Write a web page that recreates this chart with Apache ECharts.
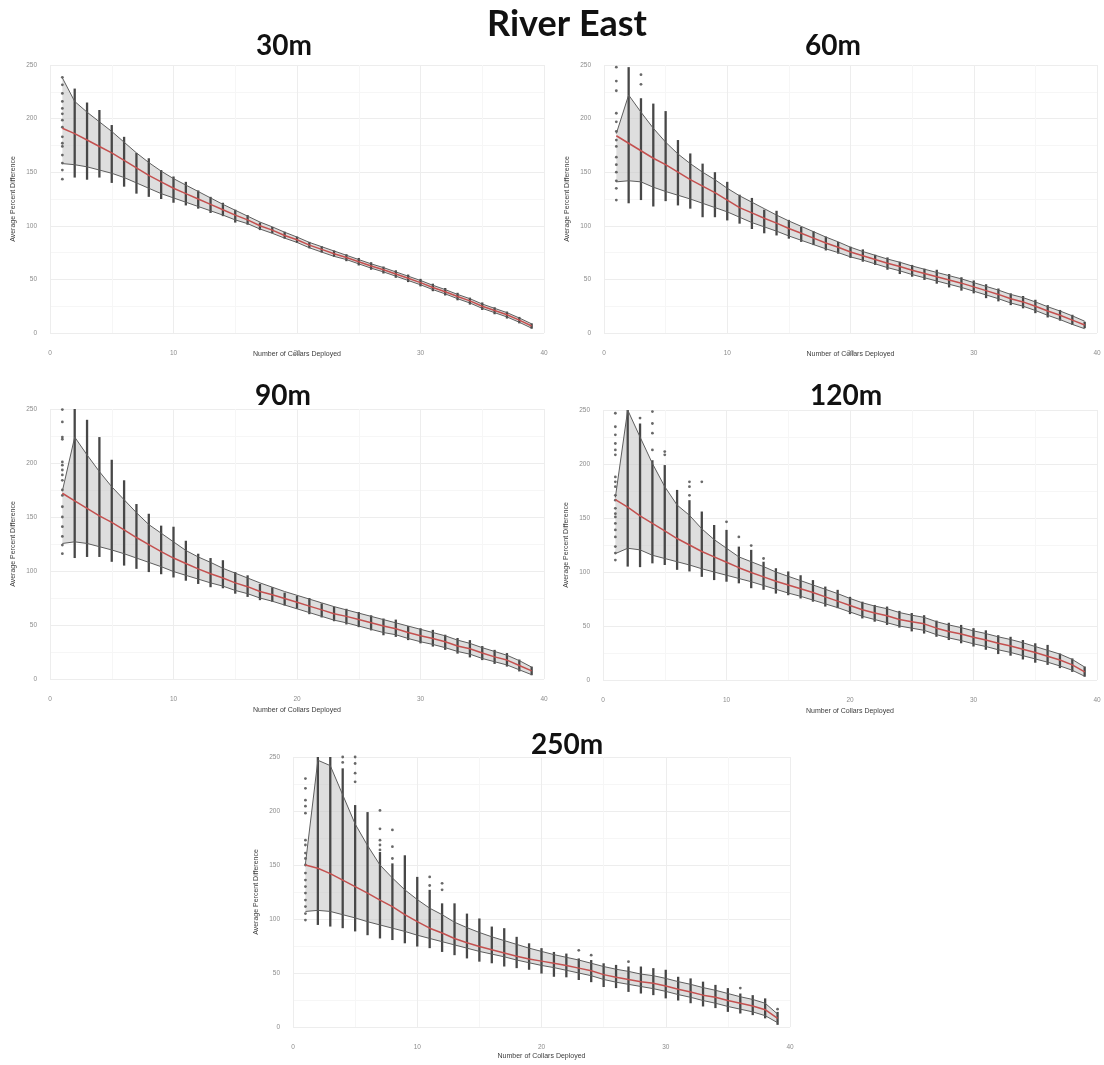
<!DOCTYPE html>
<html><head><meta charset="utf-8">
<script src="https://cdn.jsdelivr.net/npm/echarts@6/dist/echarts.min.js"></script>
<style>html,body{margin:0;padding:0;background:#fff}#c{width:1104px;height:1065px}</style>
</head><body><div id="c"></div><script>
// x categories: number of collars deployed
const collars = [1,2,3,4,5,6,7,8,9,10,11,12,13,14,15,16,17,18,19,20,21,22,23,24,25,26,27,28,29,30,31,32,33,34,35,36,37,38,39];
const xTicks = [0,10,20,30,40];
const yTicks = [0,50,100,150,200,250];
const panelNames = ['30m','60m','90m','120m','250m'];

// ---- 30m ----
const mean30 = [191,186,180,174,168,161,154,147,141,135,130,125,120,115,110,105.5,100,96,91,87,82,78,74,70.5,66.5,62.5,59,55,51,47,42.5,38.5,34,30,25,21,17,12,6.5];
const hi30 = [null,228,215,208,194,183,168,163,152,146,141,133,127,121.5,115,110,103,99,94.5,90,85,81,77,73.5,70,66,62,58.5,54.5,50.5,46,42,37.5,33,28.5,24,20,15,9];
const lo30 = [null,145,143,145,140,136.5,130,127,125,121.5,119,116,112,109,103,101,96,93,88,84,79,75,71,67,63,59,55.5,51.5,47.5,43.5,39,35,30.5,26.5,21.5,17.5,13.5,9,4];
const bandHi30 = [238,216,206,197,188,178,168,159,151,144,138,132,126,120,114.5,109,103.5,99,94,89.5,84.5,80.5,76.5,72.5,68.5,64.5,61,57,53,49,44.5,40.5,36,32,27,23,19,14,8.5];
const bandLo30 = [158,157,155,152,149,145,140,135,130,126,122,118,114,110,105.5,102,97,93,88.5,84.5,79.5,75.5,71.5,68.5,64.5,60.5,57,53,49,45,40.5,36.5,32,28,23,19,15,10,4.5];
const dots30 = [[1,238.5],[1,231.5],[1,223.5],[1,216],[1,209.5],[1,204.5],[1,198.5],[1,192],[1,183],[1,177],[1,174],[1,166],[1,158.5],[1,152],[1,143.5]];

// ---- 60m ----
const mean60 = [184,177,170,163,157,150,143,137,131,124,117,112,107,102.5,97.5,93,88.5,84,80,75.5,72,68.5,65,62,58.5,55.5,52.5,49.5,46.5,43,39.5,36,32,29,25,20.5,16.5,12,7.5];
const hi60 = [null,248,219,214,207,180,167.5,158,150,141,129,126,115,114,105.5,99,95,90,85,80.5,78,73,70.5,66.5,63.5,60,59,55,52,49,45.5,41.5,37,34.5,31,26,21.5,17,10.5];
const lo60 = [null,121,124,118,123,119,116,108,108,105,102,97,93,91,88,85,82,77,74,70,66.5,63.5,59,55,52.5,49.5,46,42.5,39.5,37,32.5,29.5,26,23,18.5,14.5,11.5,7.5,4.5];
const bandHi60 = [186,222,206,191,178,167,158,150,143,135,128,122,116,110,104.5,99.5,94.5,89.5,85,80,76,72.5,69,66,62.5,59.5,56.5,53.5,50.5,47,43.5,40,36,33,29,24.5,20.5,16,11];
const bandLo60 = [141,142,141,136,132,128.5,125,121,117,113,108,103,99,95,90.5,86.5,82.5,78.5,75,71,68,64.5,61,58,54.5,51.5,48.5,45.5,42.5,39,35.5,32,28,25,21,16.5,12.5,8,4];
const dots60 = [[1,248],[1,235],[1,226],[1,205],[1,197],[1,188],[1,180],[1,174],[1,164],[1,157],[1,150],[1,142],[1,135],[1,124],[3,241],[3,232]];

// ---- 90m ----
const mean90 = [172,165,158,151,145,138,131,124.5,118,112,107,102,97.5,93.5,89,85.5,81,78,74.5,71,67.5,64,60.5,58,55,52,49,46.5,43,40,37.5,34.5,30.5,28,24,20.5,17.5,12.5,7.5];
const hi90 = [null,250,240,224,203,184,162,153,142,141,128,116,112,110,99,96,88,85,80,77,75,70,67,65,62,59,56,55,49,47,45.5,41,38,36,30.5,27,24,18,11.5];
const lo90 = [null,112,113,113,108.5,105,102,99,97,94,91,88,85,84,79,76,73,71.5,68,65,60,57,53.5,50.5,48,45,40.5,39,36,33,30,27,23.5,20,17.5,14,11.5,7,3.5];
const bandHi90 = [174,224,207.5,192,178,166,154,143,135,127,119,113,108,102.5,98,93.5,89,85,81,77.5,74,70.5,67,64,61,58,55,52,49,46,43,40,36,33,29,25.5,22,17,11];
const bandLo90 = [125.5,127,125.5,122.5,119.5,116,112,108,104,99.5,96,92.5,89,86,82,79,75,72,68.5,65,61.5,58,54.5,52,49,46,43,41,37.5,34.5,32,29,25.5,23,19,16,13,8.5,4];
const dots90 = [[1,249.5],[1,238],[1,224],[1,222],[1,201],[1,198],[1,193.5],[1,189],[1,184],[1,175],[1,170],[1,159.5],[1,150],[1,141],[1,132],[1,124],[1,116]];

// ---- 120m ----
const mean120 = [167,160,152,145,138,131,125,119,114,109,104,99.5,95.5,91.5,88,84.5,81,77,73,69,65,62,59.5,56,54,52,48,45,42.5,39.5,37,34,31.5,28.5,25.5,22,18.5,14,7.5];
const hi120 = [null,250,237.5,203.5,199,176,166.5,156,143.5,139,123.5,120.5,109.5,103.5,100.5,97,92.5,86.5,83.5,77,72.5,69.5,68,64,62,60,55,53,51,48,46,41.5,40,37,34,32.5,24.5,20,12.5];
const lo120 = [null,105,104.5,108,106.5,102,100.5,95.5,92.5,91,89.5,85,83.5,80,78.5,75.5,72.5,68,66.5,61,57,54,51,48.5,45,43,40,37,34,31,28,24,22.5,19,16,14,11,7.5,3];
const bandHi120 = [169,250,225,200.5,179,162,152.5,140,130,122,114,109.5,105,100,96,92,88,84,80,75.5,71.5,68.5,66,62.5,60,58,54,51,48.5,45.5,43,40,37.5,34.5,31,27.5,24,19,12];
const bandLo120 = [117,122,120.5,115.5,112.5,109.5,106.5,103,100,97,94,91,87.5,84,80.5,77.5,74,70.5,67,63,59,56,53,50,48,46,42,39,36.5,33.5,31,28,25.5,22.5,19.5,16.5,13,9,3.5];
const dots120 = [[1,247],[1,234.5],[1,227],[1,219],[1,213],[1,208.5],[1,188],[1,183.5],[1,179],[1,171],[1,166.5],[1,159],[1,154],[1,151],[1,145],[1,139],[1,132.5],[1,123.5],[1,117.5],[1,111],
  [3,242.5],[4,248.5],[4,237.5],[4,228.5],[4,213],[5,211.5],[5,208.5],[7,183.5],[7,179],[7,171],[8,183.5],[10,146.5],[11,132.5],[12,124.5],[13,112.5]];

// ---- 250m ----
const mean250 = [150,147,142,136,130,124,117.5,111.5,104,97.5,91.5,87,82,78,74.5,71.5,68.5,65.5,63,61,59,57,54.5,52,48.5,46,44,42,40.5,38,35,32.5,29.5,27.5,24.5,22,19.5,16,8];
const hi250 = [null,250,250,239.5,205.5,199,162,151.5,159,139,127,114.5,114.5,105,100.5,93,91.5,83.5,77.5,73,69.5,68,63.5,62,59,57.5,56,56,54.5,53,46.5,45,42,39,36,31,29.5,26.5,14];
const lo250 = [null,94.5,93,91.5,88.5,85,82,80.5,77.5,74.5,73,69.5,66.5,63.5,60.5,59,56,54.5,53,49.5,46.5,46,43.5,41.5,37,36,32.5,31,29.5,26.5,24.5,22,19,17.5,14,12.5,11,8,2];
const bandHi250 = [151,247,242,215,188,168,150,138,127,118,110,104,97,92,87.5,83.5,80,76.5,73,70,67,64.5,62,59,56,53.5,51.5,49,47.5,45,42,39.5,36.5,34,31,28,25.5,22,12];
const bandLo250 = [107,108,107,104,101,97.5,94.5,91.5,88.5,85,82,79,76,73,70,67.5,65,62,59.5,57,55,52.5,50,47.5,44,41.5,39.5,37.5,35.5,33,30,27.5,24.5,22,19,16.5,14,10.5,4];
const dots250 = [[1,230],[1,221],[1,210],[1,204.5],[1,198],[1,173],[1,168.5],[1,161],[1,156],[1,150],[1,142.5],[1,136],[1,130],[1,124],[1,117.5],[1,111.5],[1,105],[1,99],
  [4,250],[4,245],[5,250],[5,244],[5,235],[5,227],[7,200.5],[7,183.5],[7,173],[7,168.5],[7,164],[8,182.5],[8,167],[8,156],[11,139],[11,131],[12,133],[12,127],[23,71],[24,66.5],[27,60.5],[36,36],[39,16.5]];

const means = [mean30, mean60, mean90, mean120, mean250];
const his = [hi30, hi60, hi90, hi120, hi250];
const los = [lo30, lo60, lo90, lo120, lo250];
const bandHis = [bandHi30, bandHi60, bandHi90, bandHi120, bandHi250];
const bandLos = [bandLo30, bandLo60, bandLo90, bandLo120, bandLo250];
const dotsAll = [dots30, dots60, dots90, dots120, dots250];

// layout (pixels)
const grids = [
  {left:50, top:65, width:494, height:268},
  {left:604, top:65, width:493, height:268},
  {left:50, top:409, width:494, height:270},
  {left:603, top:410, width:494, height:270},
  {left:293, top:757, width:497, height:270}
];
const xNameGaps = [18, 18, 28, 28, 26];
const titlePos = [[284,46],[833,46],[283,396],[846,396],[567,745]];

const pairs = arr => collars.map((c,i) => [c, arr[i]]);
const tickFont = {fontSize:6.5, color:'#8c8c8c', fontFamily:'Liberation Sans'};
const nameFont = {fontSize:7, color:'#3c3c3c', fontFamily:'Liberation Sans'};

const xAxis = [], yAxis = [], series = [];
grids.forEach((g,i) => {
  xAxis.push({type:'value', gridIndex:i, min:xTicks[0], max:xTicks[xTicks.length-1], interval:10,
    axisLine:{show:false}, axisTick:{show:false},
    axisLabel:Object.assign({margin:17}, tickFont),
    splitLine:{lineStyle:{color:'#ededed', width:1}},
    minorTick:{show:false, splitNumber:2}, minorSplitLine:{show:true, lineStyle:{color:'#f6f6f6', width:1}},
    name:'Number of Collars Deployed', nameLocation:'middle', nameGap:xNameGaps[i], nameMoveOverlap:false, nameTextStyle:nameFont});
  yAxis.push({type:'value', gridIndex:i, min:yTicks[0], max:yTicks[yTicks.length-1], interval:50,
    axisLine:{show:false}, axisTick:{show:false},
    axisLabel:Object.assign({margin:13}, tickFont),
    splitLine:{lineStyle:{color:'#ededed', width:1}},
    minorTick:{show:false, splitNumber:2}, minorSplitLine:{show:true, lineStyle:{color:'#f6f6f6', width:1}},
    name:'Average Percent Difference', nameLocation:'middle', nameGap:33, nameMoveOverlap:false, nameTextStyle:nameFont});

  const bLo = bandLos[i], bHi = bandHis[i];
  // ribbon polygon (upper edge forward, lower edge back) through the axes' coordinate system
  const bandData = collars.map((c,k) => [c, bLo[k], bHi[k]]);
  series.push({type:'custom', xAxisIndex:i, yAxisIndex:i, data:bandData, encode:{x:0, y:[1,2]}, z:1, silent:true,
    renderItem:(params, api) => {
      if (params.dataIndex !== 0) return null;
      const pts = [];
      bandData.forEach(d => pts.push(api.coord([d[0], d[2]])));
      for (let k = bandData.length - 1; k >= 0; k--) pts.push(api.coord([bandData[k][0], bandData[k][1]]));
      return {type:'polygon', shape:{points:pts}, style:{fill:'rgba(200,200,200,0.6)', stroke:null}};
    }});
  const whisk = collars.map((c,k) => [c, los[i][k], his[i][k]]).filter(d => d[1] != null);
  series.push({type:'custom', xAxisIndex:i, yAxisIndex:i, data:whisk, encode:{x:0, y:[1,2]}, z:2, silent:true,
    renderItem:(params, api) => {
      const a = api.coord([api.value(0), api.value(1)]);
      const b = api.coord([api.value(0), api.value(2)]);
      return {type:'line', shape:{x1:a[0], y1:a[1], x2:b[0], y2:b[1]}, style:{stroke:'#474747', lineWidth:2.3}};
    }});
  series.push({type:'scatter', xAxisIndex:i, yAxisIndex:i, data:dotsAll[i], symbolSize:2.8,
    itemStyle:{color:'#444444'}, silent:true, z:3});
  series.push({type:'line', xAxisIndex:i, yAxisIndex:i, data:pairs(bHi), symbol:'none',
    lineStyle:{color:'#5e5e5e', width:1}, silent:true, z:4});
  series.push({type:'line', xAxisIndex:i, yAxisIndex:i, data:pairs(bLo), symbol:'none',
    lineStyle:{color:'#5e5e5e', width:1}, silent:true, z:4});
  series.push({type:'line', xAxisIndex:i, yAxisIndex:i, data:pairs(means[i]), symbol:'none',
    lineStyle:{color:'#c4504f', width:1.5}, silent:true, z:5});
});

const graphic = [{type:'text', x:567, y:24, style:{text:'River East', font:'bold 36px Lato', fill:'#111', textAlign:'center', textVerticalAlign:'middle'}}];
panelNames.forEach((n,i) => graphic.push({type:'text', x:titlePos[i][0], y:titlePos[i][1],
  style:{text:n, font:'bold 28px Lato', fill:'#111', textAlign:'center', textVerticalAlign:'middle'}}));

const chart = echarts.init(document.getElementById('c'), null, {renderer:'canvas'});
chart.setOption({animation:false, backgroundColor:'#ffffff', grid:grids, xAxis, yAxis, series, graphic});
</script></body></html>
